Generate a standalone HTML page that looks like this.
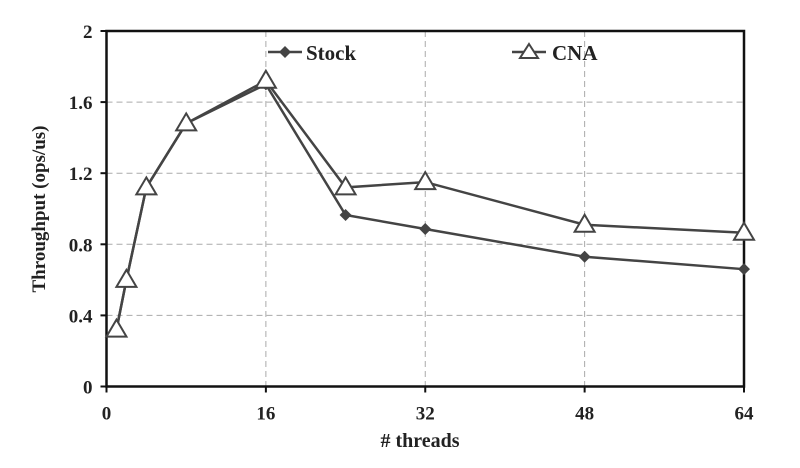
<!DOCTYPE html>
<html><head><meta charset="utf-8"><style>
body{margin:0;background:#fff;}
svg{display:block;font-family:"Liberation Serif",serif;font-weight:bold;}
</style></head><body>
<svg id="chart" width="800" height="468" viewBox="0 0 800 468" xmlns="http://www.w3.org/2000/svg">
<g id="grid"></g>
<g id="axes"></g>
<g id="series"></g>
<g id="legend">
  <line x1="268" y1="52" x2="302" y2="52" stroke="#444" stroke-width="2.5"/>
  <path d="M285 46 L291 52 L285 58 L279 52 Z" fill="#444"/>
  <text x="306" y="60" font-size="21" fill="#222">Stock</text>
  <line x1="512" y1="52" x2="546" y2="52" stroke="#444" stroke-width="2.5"/>
  <path d="M529 44 L538 58 L520 58 Z" fill="#fff" stroke="#444" stroke-width="2"/>
  <text x="552" y="60" font-size="21" fill="#222">CNA</text>
</g>
<text x="420" y="447" font-size="20" text-anchor="middle" fill="#222"># threads</text>
<text transform="translate(45,209) rotate(-90)" font-size="19" text-anchor="middle" fill="#222">Throughput  (ops/us)</text>
</svg>
<script>
const threads = [1, 2, 4, 8, 16, 24, 32, 48, 64];
const stockValues = [0.32, 0.60, 1.12, 1.48, 1.70, 0.965, 0.886, 0.73, 0.66];
const cnaValues = [0.32, 0.60, 1.12, 1.48, 1.72, 1.12, 1.15, 0.91, 0.865];
const xTicks = [0, 16, 32, 48, 64];
const yTicks = [0, 0.4, 0.8, 1.2, 1.6, 2];
const yTickLabels = ["0", "0.4", "0.8", "1.2", "1.6", "2"];

const L=106.5,R=744,T=31,B=386.5;
const xs=v=>L+(v-0)/64*(R-L);
const ys=v=>B-(v/2)*(B-T);
const NS="http://www.w3.org/2000/svg";
function mk(tag,attrs,parent){const e=document.createElementNS(NS,tag);for(const k in attrs)e.setAttribute(k,attrs[k]);parent.appendChild(e);return e;}
const grid=document.getElementById('grid'),axes=document.getElementById('axes'),series=document.getElementById('series');

yTicks.forEach((v,i)=>{
  if(v>0&&v<2){const g=mk('line',{x1:L,x2:R,y1:ys(v),y2:ys(v),stroke:'#aaa','stroke-width':1,'stroke-dasharray':'6,4'},grid);
  
  }
  const t=mk('line',{x1:L-6,x2:L,y1:ys(v),y2:ys(v),stroke:'#111','stroke-width':2},axes);
  
  
  const lb=mk('text',{x:L-14,y:ys(v)+7,'font-size':19,'text-anchor':'end',fill:'#222'},axes);
  lb.textContent=yTickLabels[i];
  
  
});
xTicks.forEach(v=>{
  if(v>0&&v<64){const g=mk('line',{x1:xs(v),x2:xs(v),y1:T,y2:B,stroke:'#aaa','stroke-width':1,'stroke-dasharray':'6,4'},grid);
  
  }
  const t=mk('line',{x1:xs(v),x2:xs(v),y1:B,y2:B+6,stroke:'#111','stroke-width':2},axes);
  
  
  const lb=mk('text',{x:xs(v),y:B+33,'font-size':19,'text-anchor':'middle',fill:'#222'},axes);
  lb.textContent=String(v);
  
  
});
const frame=mk('rect',{x:L,y:T,width:R-L,height:B-T,fill:'none',stroke:'#111','stroke-width':2.5},axes);



function drawLine(vals,name){
  const p=mk('polyline',{points:vals.map((v,i)=>xs(threads[i])+','+ys(v)).join(' '),fill:'none',stroke:'#444','stroke-width':2.5},series);
  
  
}
drawLine(stockValues,'stock');
drawLine(cnaValues,'cna');
stockValues.forEach((v,i)=>{
  const x=xs(threads[i]),y=ys(v);
  const m=mk('path',{d:`M${x} ${y-6} L${x+6} ${y} L${x} ${y+6} L${x-6} ${y} Z`,fill:'#444'},series);
  
  
});
cnaValues.forEach((v,i)=>{
  const x=xs(threads[i]),y=ys(v);
  const m=mk('path',{d:`M${x} ${y-10} L${x+10} ${y+7} L${x-10} ${y+7} Z`,fill:'#fff',stroke:'#444','stroke-width':2},series);
  
  
});
</script>
</body></html>
